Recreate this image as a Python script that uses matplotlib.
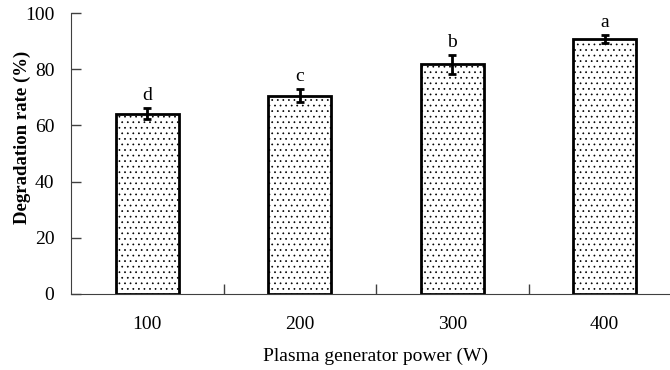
import matplotlib
matplotlib.use("Agg")
import matplotlib.pyplot as plt
import numpy as np

categories = ["100", "200", "300", "400"]
values = [64.2, 70.6, 81.7, 90.7]
errors = [2.0, 2.2, 3.3, 1.5]
letters = ["d", "c", "b", "a"]

plt.rcParams['font.family'] = ['Liberation Serif', 'DejaVu Serif']
plt.rcParams['hatch.linewidth'] = 0.5
plt.rcParams['hatch.color'] = '#333333'

fig = plt.figure(figsize=(6.7, 3.7), dpi=100)
ax = fig.add_axes([71/670, (370-294)/370, 610/670, (294-13)/370])

x = np.arange(len(categories))
ax.bar(x, values, width=0.41, color='white', edgecolor='black', linewidth=2, hatch='...', zorder=2)
ax.errorbar(x, values, yerr=errors, fmt='none', ecolor='black', elinewidth=2, capsize=2.8, capthick=2, zorder=3)
for xi, v, e, l in zip(x, values, errors, letters):
    ax.text(xi, v + e + 1.5, l, ha='center', va='bottom', fontsize=14)

ax.set_xlim(-0.5, 3.5)
ax.set_ylim(0, 100)
ax.set_yticks([0, 20, 40, 60, 80, 100])
ax.set_xticks([0.5, 1.5, 2.5])
ax.set_xticklabels([])
ax.tick_params(axis='x', direction='in', length=7, width=1, color='#404040')
ax.tick_params(axis='y', direction='in', length=7, width=1, color='#404040', labelsize=14, pad=12)
for i, c in enumerate(categories):
    ax.text(i, -10.8, c, ha='center', va='center', fontsize=14)
ax.text(1.5, -22.3, "Plasma generator power (W)", ha='center', va='center', fontsize=14)
ax.spines['top'].set_visible(False)
ax.spines['right'].set_visible(False)
ax.spines['left'].set_color('#404040')
ax.spines['bottom'].set_color('#404040')
ax.set_ylabel("Degradation rate (%)", fontsize=13.5, fontweight='bold', va='center')
ax.yaxis.set_label_coords(-0.079, 0.557)

fig.savefig("out.png", dpi=100)
